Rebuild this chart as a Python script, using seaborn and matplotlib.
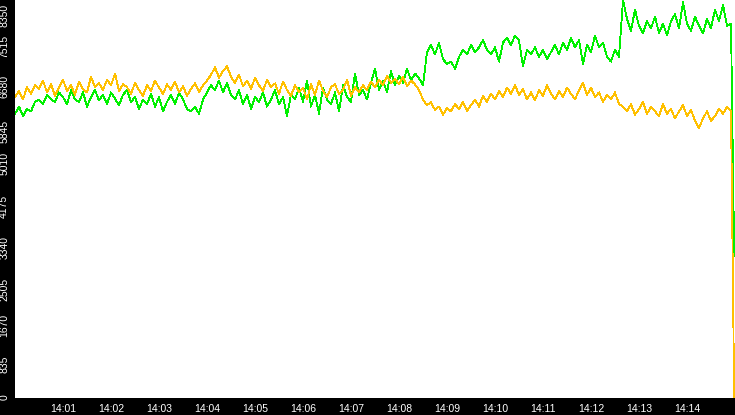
import numpy as np
import pandas as pd
import matplotlib
matplotlib.use('Agg')
import matplotlib.pyplot as plt
import seaborn as sns

# values, one point every 5 s from 14:00:00, last point is the drop
orange = [6350, 6480, 6300, 6560, 6420, 6600, 6520, 6700,
          6450, 6620, 6380, 6550, 6720, 6480, 6600, 6400,
          6680, 6520, 6450, 6780, 6560, 6640, 6500, 6720,
          6600, 6850, 6480, 6620, 6560, 6420, 6650, 6500,
          6380, 6600, 6480, 6700, 6550, 6420, 6620, 6500,
          6680, 6450, 6580, 6380, 6520, 6640, 6460, 6600,
          6700, 6820, 6980, 6760, 6900, 7000, 6780, 6650,
          6820, 6580, 6700, 6520, 6760, 6600, 6480, 6720,
          6560, 6640, 6420, 6680, 6500, 6380, 6600, 6450,
          6550, 6300, 6620, 6400, 6700, 6480, 6350, 6560,
          6620, 6420, 6500, 6720, 6380, 6560, 6450, 6600,
          6500, 6680, 6560, 6720, 6600, 6800, 6650, 6740,
          6620, 6780, 6580, 6700, 6620, 6500, 6300, 6180,
          6240, 6080, 6150, 5980, 6120, 6050, 6200, 6100,
          6250, 6060, 6180, 6300, 6150, 6380, 6250, 6420,
          6300, 6480, 6350, 6550, 6420, 6600, 6400, 6520,
          6300, 6450, 6280, 6500, 6380, 6600, 6420, 6300,
          6480, 6350, 6550, 6420, 6300, 6500, 6650, 6400,
          6550, 6350, 6450, 6250, 6400, 6300, 6450, 6200,
          6150, 6050, 6200, 5980, 6100, 6250, 6000, 6150,
          6050, 5950, 6200, 6000, 6100, 5900, 6050, 6180,
          5950, 6080, 5850, 5700, 5900, 6050, 5850, 5950,
          6100, 6000, 6150, 6050,
          0]

green = [6000, 6150, 5950, 6100, 6050, 6250, 6300, 6200,
         6400, 6300, 6250, 6450, 6350, 6200, 6500, 6300,
         6250, 6450, 6150, 6350, 6500, 6280, 6400, 6200,
         6450, 6320, 6180, 6400, 6500, 6250, 6350, 6100,
         6300, 6200, 6420, 6150, 6350, 6050, 6250, 6400,
         6200, 6450, 6300, 6100, 6050, 6150, 6000, 6300,
         6450, 6600, 6500, 6700, 6450, 6650, 6400, 6300,
         6500, 6200, 6400, 6100, 6350, 6250, 6450, 6150,
         6300, 6500, 6200, 6350, 5950, 6400, 6300, 6550,
         6250, 6700, 6150, 6400, 6000, 6550, 6300, 6200,
         6450, 6050, 6600, 6350, 6250, 6850, 6400, 6500,
         6300, 6650, 6950, 6500, 6700, 6450, 6900, 6600,
         6800, 6650, 6950, 6700, 6850, 6750, 6600, 7300,
         7450, 7250, 7500, 7150, 7050, 7100, 6950, 7200,
         7350, 7250, 7450, 7300, 7400, 7550, 7350, 7250,
         7400, 7100, 7500, 7600, 7450, 7650, 7550, 7000,
         7350, 7250, 7400, 7200, 7350, 7150, 7300, 7450,
         7250, 7500, 7350, 7600, 7400, 7550, 7050, 7450,
         7300, 7650, 7400, 7500, 7200, 7100, 7350, 7200,
         8400, 8000, 7750, 8200, 7850, 7700, 7950, 7800,
         8050, 7700, 7900, 7650, 7950, 8100, 7800, 8350,
         7900, 7750, 8050, 7850, 7700, 8000, 7800, 8200,
         7950, 8300, 7850, 7900,
         2985]

y_ticks = [0, 835, 1670, 2505, 3340, 4175, 5010, 5845, 6680, 7515, 8350]
x_labels = ['14:01', '14:02', '14:03', '14:04', '14:05', '14:06', '14:07',
            '14:08', '14:09', '14:10', '14:11', '14:12', '14:13', '14:14']

times = pd.date_range('2020-01-01 14:00:00', periods=len(green) - 1, freq='5s')
times = times.append(pd.DatetimeIndex(['2020-01-01 14:14:59']))

df = pd.DataFrame({
    'time': list(times) * 2,
    'value': green + orange,
    'series': ['green'] * len(green) + ['orange'] * len(orange),
})

sns.set_style('white')
plt.rcParams['font.family'] = ['Liberation Sans', 'DejaVu Sans']

fig = plt.figure(figsize=(7.35, 4.15), dpi=100, facecolor='black')
ax = fig.add_axes([15 / 735, 17 / 415, 720 / 735, 398 / 415])
ax.set_facecolor('white')

sns.lineplot(data=df, x='time', y='value', hue='series', estimator=None,
             palette={'green': '#00f000', 'orange': '#ffc000'},
             lw=0.6, legend=False, ax=ax, antialiased=False)

ax.set_xlim(pd.Timestamp('2020-01-01 14:00:00'), pd.Timestamp('2020-01-01 14:15:00'))
ax.set_ylim(0, 8400)

ax.set_yticks(y_ticks)
ax.set_yticklabels([])
# y labels drawn by hand: rotated, sitting a little below their tick (pixels)
label_drop = [-1, 6, 7, 10, 8, 6, 3, 10, 4.5, 5, 13]
for v, d in zip(y_ticks, label_drop):
    ax.annotate(str(v), xy=(0, v), xycoords=('axes fraction', 'data'),
                xytext=(-4.2, -d * 0.72), textcoords='offset points',
                rotation=90, ha='right', va='center', color='white',
                fontsize=7.5, annotation_clip=False)

ax.set_xticks(pd.date_range('2020-01-01 14:01:00', periods=len(x_labels), freq='1min'))
ax.set_xticklabels(x_labels)

ax.tick_params(axis='both', colors='white', labelcolor='white', labelsize=7.5,
               length=3.6, width=1, direction='out', pad=1)
for s in ax.spines.values():
    s.set_visible(False)
ax.set_xlabel('')
ax.set_ylabel('')

fig.savefig('out.png', dpi=100, facecolor='black')
